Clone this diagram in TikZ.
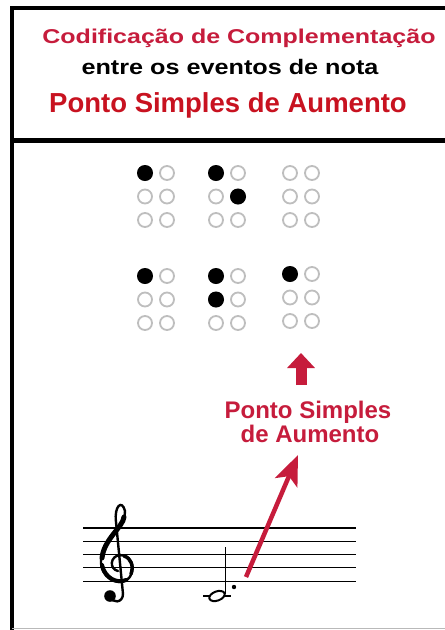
\documentclass[tikz,border=0pt]{standalone}
\usepackage{fontspec}
\setmainfont{Liberation Sans}
\usepackage{graphicx}
\usetikzlibrary{arrows.meta, positioning, calc}
\definecolor{cCrimson}{RGB}{198,28,60}
\definecolor{cRed}{RGB}{200,18,32}
\definecolor{cDotGray}{RGB}{190,190,190}
\tikzset{
	frameline/.style ={line width=4.3pt, black},
	titletext/.style ={inner sep=0pt, anchor=base},
	dotoff/.style    ={draw=cDotGray, line width=1.8pt},
	doton/.style     ={fill=black},
	staffline/.style ={line width=1.1pt, black},
	clefline/.style  ={line width=2.4pt, black, line cap=round},
	redarrow/.style  ={-{Stealth[length=30pt, width=24pt, inset=7pt]}, line width=4.5pt, cCrimson},
	blockarrow/.style={-{Triangle[length=15pt, width=27pt]}, line width=11pt, cCrimson},
}

\begin{document}
\begin{tikzpicture}[x=1pt, y=-1pt]
	\useasboundingbox (0,0) rectangle (445,630);
	\fill[white] (0,0) rectangle (445,630);
	\draw[frameline] (12.3,6) -- (12.3,630);
	\draw[frameline] (10,8) -- (445,8);
	\draw[frameline] (10,140.5) -- (445,140.5);
	\draw[gray!55, line width=1.5pt] (12,628.5) -- (445,628.5);
	\node[titletext, text=cCrimson, font=\bfseries\fontsize{20}{24}\selectfont] (t1) at (239,43) {\scalebox{1.25}[1]{Codificação de Complementação}};
	\node[titletext, font=\bfseries\fontsize{21}{24}\selectfont] (t2) at (230,74) {\scalebox{1.2}[1]{entre os eventos de nota}};
	\node[titletext, text=cRed, font=\bfseries\fontsize{27.5}{30}\selectfont] (t3) at (228,112) {Ponto Simples de Aumento};
	\foreach \cx/\cy in {145/173, 216/173, 290/173, 145/276, 216/276, 290/274}
		\foreach \c in {0,1}
			\foreach \r in {0,1,2}
				\draw[dotoff] ({\cx+22*\c},{\cy+23.5*\r}) circle (7pt);
	\foreach \px/\py in {145/173, 216/173, 238/196.5, 145/276, 216/276, 216/299.5, 290/274}
		\fill[doton] (\px,\py) circle (8pt);
	\coordinate (upFoot) at (301,385);
	\coordinate (upTip) at (301,353);
	\draw[blockarrow] (upFoot) -- (upTip);
	\node[titletext, text=cCrimson, font=\bfseries\fontsize{24}{25}\selectfont] (lbl1) at (308,418) {Ponto Simples};
	\node[titletext, text=cCrimson, font=\bfseries\fontsize{24}{25}\selectfont] (lbl2) at (310,442) {de Aumento};
	\foreach \k in {0,...,4}
		\draw[staffline] (83,{528+13.3*\k}) -- (356,{528+13.3*\k});
	\draw[clefline] (110,596) .. controls (112,604) and (123,603) .. (123,594)
		-- (116,522) .. controls (114,506) and (122,499) .. (125,511)
		.. controls (127,525) and (102,537) .. (101,560)
		.. controls (100,578) and (117,586) .. (127,580)
		.. controls (136,573) and (134,555) .. (120,555)
		.. controls (110,556) and (109,569) .. (118,571);
	\draw[line width=5pt, line cap=round] (124,517) .. controls (123,527) and (104,539) .. (102,558);
	\draw[line width=4pt, line cap=round] (102,565) .. controls (105,578) and (117,584) .. (126,580);
	\draw[line width=3.5pt, line cap=round] (131,574) .. controls (134,566) and (131,558) .. (124,556);
	\fill (110,596) circle (5.8pt);
	\coordinate (nh) at (217,596);
	\draw[line width=1.1pt] (203,596) -- (231,596);
	\draw[line width=2pt, fill=white, rotate around={20:(nh)}] (nh) ellipse (8pt and 4.6pt);
	\draw[line width=1.1pt] (225.5,594) -- (225.5,547);
	\fill (234,587) circle (2.2pt);
	\coordinate (redTail) at (246,577);
	\coordinate (redTip) at (298,455);
	\draw[redarrow] (redTail) -- (redTip);
\end{tikzpicture}
\end{document}
